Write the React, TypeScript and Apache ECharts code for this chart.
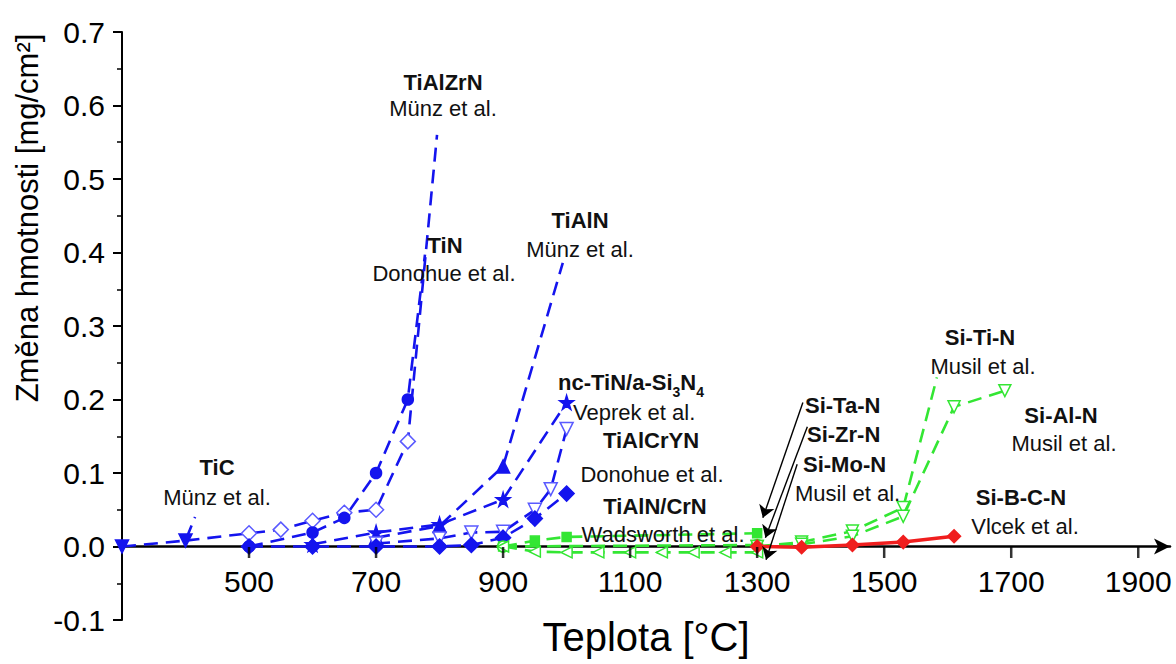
import React, { useEffect, useRef } from "react";
import * as echarts from "echarts";

// Oxidation mass gain vs. temperature for hard nitride / carbide coatings
const xTicks = [500, 700, 900, 1100, 1300, 1500, 1700, 1900];

// Blue group (Ti-based coatings): [temperature °C, mass change mg/cm²]
const tiC = [[300, 0], [400, 0.008]];
const tiCTail = [415, 0.04];
const tiN = [[500, 0], [600, 0.019], [650, 0.039], [700, 0.1], [750, 0.2]];
const tiNTail = [777, 0.397];
const tiAlZrNStart = [400, 0.008];
const tiAlZrN = [[500, 0.018], [550, 0.023], [600, 0.035], [650, 0.046], [700, 0.05], [750, 0.143]];
const tiAlZrNTail = [796, 0.56];
const tiAlN = [[700, 0.012], [800, 0.028], [900, 0.109]];
const tiAlNTail = [994, 0.386];
const ncTiN = [[600, 0.003], [700, 0.019], [800, 0.03], [900, 0.064], [1000, 0.196]];
const tiAlCrYN = [[700, 0.004], [800, 0.011], [850, 0.019], [900, 0.02], [950, 0.05], [975, 0.078], [1000, 0.16]];
const tiAlNCrN = [[500, 0], [600, 0], [700, 0], [800, 0], [850, 0.002], [900, 0.012], [950, 0.038], [1000, 0.072]];

// Green group (Si-Me-N, Musil et al.)
const siTaN = [[900, 0], [950, 0.008], [1000, 0.013], [1300, 0.018]];
const siZrN = [[900, 0], [1300, 0.002]];
const siMoN = [[900, 0], [950, -0.007], [1000, -0.008], [1050, -0.008], [1100, -0.008], [1150, -0.008], [1200, -0.008], [1250, -0.008], [1300, -0.008]];
const siTiN = [[1300, 0], [1370, 0.006], [1450, 0.021], [1530, 0.053]];
const siTiNTail = [1583, 0.23];
const siAlN = [[1300, 0], [1370, 0.003], [1450, 0.014], [1530, 0.041], [1610, 0.19], [1690, 0.212]];

// Red (Si-B-C-N, Vlcek et al.)
const siBCN = [[1300, 0], [1370, -0.001], [1450, 0.002], [1530, 0.006], [1610, 0.014]];

// Pointer arrows from the Si-Ta-N / Si-Zr-N / Si-Mo-N labels
const pointerArrows = [
  [[1372, 0.196], [1309, 0.039]],
  [[1379, 0.163], [1313, 0.012]],
  [[1363, 0.112], [1314, -0.018]],
];

const BLUE = "#1414ee";
const LIGHT_BLUE = "#5a5aff";
const GREEN = "#33e633";
const RED = "#f01e1e";
const FONT = "'Liberation Sans', Arial, sans-serif";
const STAR = "path://M50,0 L61,35 L98,35 L68,57 L79,91 L50,70 L21,91 L32,57 L2,35 L39,35 Z";

// Plot frame: the temperature axis runs along y = 0 inside a -0.1..0.7 range
const GRID_TOP = 32;
const GRID_BOTTOM = 44;
const Y_MIN = -0.1;
const Y_MAX = 0.7;
const PLOT_H = 664 - GRID_TOP - GRID_BOTTOM;
const ZERO_OFFSET = -PLOT_H * (0 - Y_MIN) / (Y_MAX - Y_MIN);

const withEnds = (pts: number[][], head?: number[], tail?: number[]) => {
  const out: any[] = [];
  if (head) out.push({ value: head, symbol: "none" });
  pts.forEach((p) => out.push({ value: p }));
  if (tail) out.push({ value: tail, symbol: "none" });
  return out;
};

const dashed = (color: string) => ({ color, width: 2.6, type: [14, 8] as any });

function lineSeries(name: string, data: any[], symbol: string, size: number, fill: string, stroke: string, line: any, extra: any = {}) {
  return {
    name,
    type: "line",
    data,
    symbol,
    symbolSize: size,
    showAllSymbol: true,
    itemStyle: { color: fill, borderColor: stroke, borderWidth: 1.5 },
    lineStyle: line,
    z: 3,
    ...extra,
  };
}

const label = (x: number, y: number, text: string, bold: boolean, align = "center") => ({
  type: "text",
  x,
  y,
  style: {
    text,
    fontFamily: FONT,
    fontSize: 22,
    fontWeight: bold ? "bold" : "normal",
    fill: "#111",
    align,
    verticalAlign: "middle",
  },
  z: 10,
});

export default function App() {
  const ref = useRef<HTMLDivElement>(null);

  useEffect(() => {
    if (!ref.current) return;
    const chart = echarts.init(ref.current, null, { renderer: "svg" });

    const option: any = {
      animation: false,
      backgroundColor: "#fff",
      grid: { left: 122, right: 6, top: GRID_TOP, bottom: GRID_BOTTOM, containLabel: false, outerBoundsMode: "none" },
      xAxis: {
        type: "value",
        min: 300,
        max: 1950,
        position: "bottom",
        offset: ZERO_OFFSET,
        name: "Teplota [°C]",
        nameLocation: "middle",
        nameGap: 70,
        nameTextStyle: { fontFamily: FONT, fontSize: 40, color: "#000" },
        axisLine: {
          onZero: false,
          symbol: ["none", "arrow"],
          symbolSize: [12, 16],
          lineStyle: { color: "#000", width: 2.5 },
        },
        axisTick: { show: false },
        axisLabel: {
          customValues: xTicks,
          fontFamily: FONT,
          fontSize: 30,
          color: "#000",
          margin: 20,
          formatter: (v: number) => String(v),
        },
        splitLine: { show: false },
      },
      yAxis: {
        type: "value",
        min: Y_MIN,
        max: Y_MAX,
        interval: 0.1,
        axisLine: { show: true, onZero: false, lineStyle: { color: "#000", width: 2 } },
        axisTick: { show: true, length: 9, lineStyle: { color: "#000", width: 2 } },
        minorTick: { show: true, splitNumber: 2, length: 5, lineStyle: { color: "#000", width: 1.5 } },
        axisLabel: {
          fontFamily: FONT,
          fontSize: 30,
          color: "#000",
          margin: 17,
          formatter: (v: number) => (Math.abs(v) < 1e-9 ? "0.0" : v.toFixed(1)),
        },
        splitLine: { show: false },
      },
      series: [
        {
          // tick marks hanging below the temperature axis
          type: "scatter",
          data: xTicks.map((v) => [v, 0]),
          symbol: "rect",
          symbolSize: [2.5, 11],
          symbolOffset: [0, 6],
          itemStyle: { color: "#000" },
          silent: true,
          clip: false,
          z: 5,
        },
        lineSeries("TiC", withEnds(tiC, undefined, tiCTail), "triangle", 13, BLUE, BLUE, dashed(BLUE), { symbolRotate: 180 }),
        lineSeries("TiAlZrN", withEnds(tiAlZrN, tiAlZrNStart, tiAlZrNTail), "diamond", 15, "#fff", LIGHT_BLUE, dashed(BLUE)),
        lineSeries("TiN", withEnds(tiN, undefined, tiNTail), "circle", 11, BLUE, BLUE, dashed(BLUE)),
        lineSeries("TiAlN", withEnds(tiAlN, undefined, tiAlNTail), "triangle", 13, BLUE, BLUE, dashed(BLUE)),
        lineSeries("nc-TiN/a-Si3N4", withEnds(ncTiN), STAR, 14, BLUE, BLUE, dashed(BLUE)),
        lineSeries("TiAlCrYN", withEnds(tiAlCrYN), "triangle", 13, "#fff", LIGHT_BLUE, dashed(BLUE), { symbolRotate: 180 }),
        lineSeries("TiAlN/CrN", withEnds(tiAlNCrN), "diamond", 15, BLUE, BLUE, dashed(BLUE)),
        lineSeries("Si-Ta-N", withEnds(siTaN), "rect", 9, GREEN, GREEN, dashed(GREEN)),
        lineSeries("Si-Zr-N", withEnds(siZrN), "circle", 11, "#fff", GREEN, dashed(GREEN)),
        lineSeries("Si-Mo-N", withEnds(siMoN), "triangle", 11, "#fff", GREEN, dashed(GREEN), { symbolRotate: 90 }),
        lineSeries("Si-Ti-N", withEnds(siTiN, undefined, siTiNTail), "triangle", 12, "#fff", GREEN, dashed(GREEN), { symbolRotate: 180 }),
        lineSeries("Si-Al-N", withEnds(siAlN), "triangle", 12, "#fff", GREEN, dashed(GREEN), { symbolRotate: 180 }),
        lineSeries("Si-B-C-N", withEnds(siBCN), "diamond", 13, RED, RED, { color: RED, width: 3.5, type: "solid" }, { z: 4 }),
        {
          type: "lines",
          coordinateSystem: "cartesian2d",
          symbol: ["none", "arrow"],
          symbolSize: 12,
          lineStyle: { color: "#000", width: 1.4, opacity: 1 },
          data: pointerArrows.map((c) => ({ coords: c })),
          z: 6,
        },
      ],
      graphic: [
        {
          type: "text",
          x: 27,
          y: 218,
          rotation: Math.PI / 2,
          style: {
            text: "Změna hmotnosti [mg/cm²]",
            fontFamily: FONT,
            fontSize: 31,
            fill: "#000",
            align: "center",
            verticalAlign: "middle",
          },
        },
        label(217, 467, "TiC", true),
        label(217, 497, "Münz et al.", false),
        label(443, 82, "TiAlZrN", true),
        label(443, 108, "Münz et al.", false),
        label(445, 245, "TiN", true),
        label(444, 273, "Donohue et al.", false),
        label(580, 220, "TiAlN", true),
        label(580, 249, "Münz et al.", false),
        {
          type: "text",
          x: 558,
          y: 382,
          style: {
            text: "{b|nc-TiN/a-Si}{s|3}{b|N}{s|4}",
            fontFamily: FONT,
            align: "left",
            verticalAlign: "middle",
            rich: {
              b: { fontFamily: FONT, fontSize: 22, fontWeight: "bold", fill: "#111", lineHeight: 34, verticalAlign: "middle" },
              s: { fontFamily: FONT, fontSize: 14, fontWeight: "bold", fill: "#111", lineHeight: 34, verticalAlign: "bottom" },
            },
          },
          z: 10,
        },
        label(573, 412, "Veprek et al.", false, "left"),
        label(651, 440, "TiAlCrYN", true),
        label(652, 474, "Donohue et al.", false),
        label(655, 506, "TiAlN/CrN", true),
        label(663, 534, "Wadsworth et al.", false),
        label(805, 405, "Si-Ta-N", true, "left"),
        label(807, 434, "Si-Zr-N", true, "left"),
        label(803, 464, "Si-Mo-N", true, "left"),
        label(795, 493, "Musil et al.", false, "left"),
        label(980, 337, "Si-Ti-N", true),
        label(983, 366, "Musil et al.", false),
        label(1061, 415, "Si-Al-N", true),
        label(1064, 443, "Musil et al.", false),
        label(1021, 497, "Si-B-C-N", true),
        label(1025, 526, "Vlcek et al.", false),
      ],
    };

    chart.setOption(option);
    return () => chart.dispose();
  }, []);

  return (
    <div
      ref={ref}
      style={{ position: "absolute", left: 0, top: 0, width: 1176, height: 664, background: "#fff" }}
    />
  );
}
